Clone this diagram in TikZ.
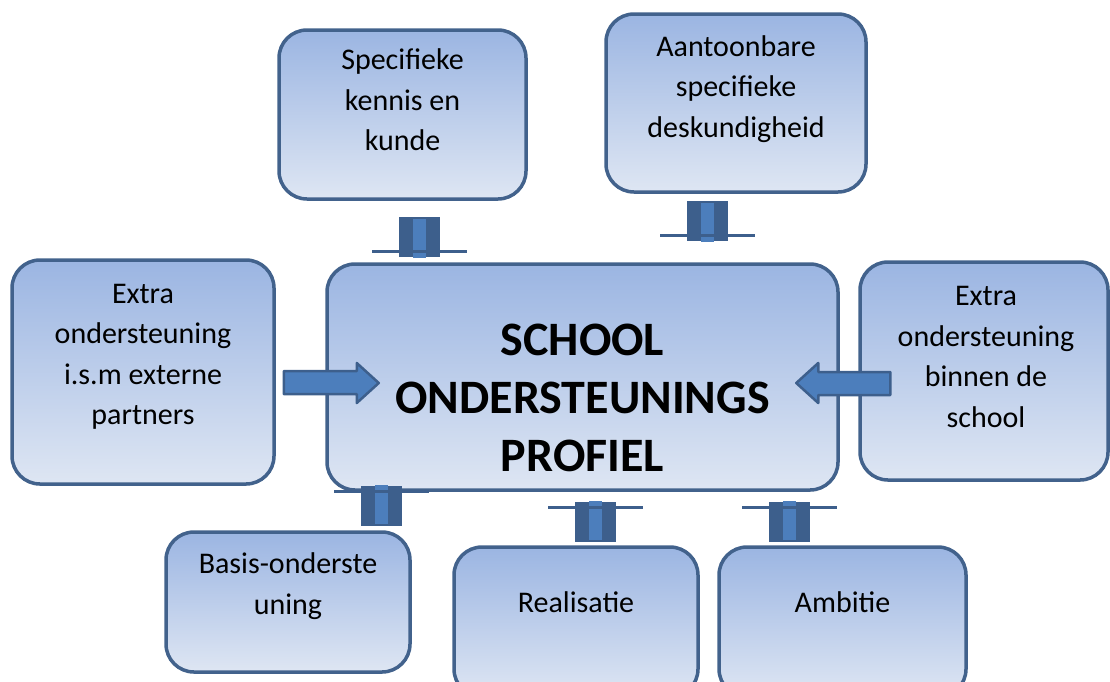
\documentclass[tikz,border=0pt]{standalone}
\usepackage{fontspec}
\setmainfont{Carlito}
\usetikzlibrary{calc}
\definecolor{boxline}{RGB}{66,98,140}
\definecolor{boxtop}{RGB}{155,181,226}
\definecolor{boxbot}{RGB}{222,230,243}
\definecolor{pilldark}{RGB}{61,95,140}
\definecolor{pilllight}{RGB}{76,126,188}
\tikzset{
  pillar/.pic = {
    \fill[pilldark] (-20.5,0) rectangle (20.5,40);
    \fill[pilllight] (-6.5,2) rectangle (6.5,41);
    \fill[pilldark] (-47.5,33) rectangle (47.5,36);
  }
}
\begin{document}
\begin{tikzpicture}[x = 1pt, y = -1pt,
  box/.style = {draw = boxline, line width = 3.5pt, rounded corners = 28pt, top color = boxtop, bottom color = boxbot, inner sep = 0pt},
  txt/.style = {align = center, font = \fontsize{30}{40.5}\selectfont, inner sep = 0pt},
  bigtxt/.style = {align = center, font = \fontsize{48}{58}\selectfont\bfseries, inner sep = 0pt},
  blockarrow/.style = {draw = pilldark, line width = 2.5pt, fill = pilllight, line join = round}]
  \clip (0,0) rectangle (1110,681);
  % boxes
  \node[box, minimum width = 247pt, minimum height = 169pt] (spec) at (402.5,114.5) {};
  \node[box, minimum width = 260pt, minimum height = 178pt] (aant) at (736,103) {};
  \node[box, minimum width = 262pt, minimum height = 224pt] (extl) at (143,372) {};
  \node[box, minimum width = 511pt, minimum height = 226pt] (main) at (582.5,377) {};
  \node[box, minimum width = 248pt, minimum height = 218pt] (extr) at (984,371) {};
  \node[box, minimum width = 244pt, minimum height = 140pt] (basis) at (288,602) {};
  \node[box, minimum width = 244pt, minimum height = 150pt] (real) at (576,622) {};
  \node[box, minimum width = 247pt, minimum height = 150pt] (amb) at (842.5,622) {};
  % texts
  \node[txt] (spect) at (402.5,100) {Specifieke\\kennis en\\kunde};
  \node[txt] (aantt) at (736,89) {Aantoonbare\\specifieke\\deskundigheid};
  \node[txt] (extlt) at (143,357) {Extra\\ondersteuning\\i.s.m externe\\partners};
  \node[bigtxt] (maint) at (582.5,398) {SCHOOL\\ONDERSTEUNINGS\\PROFIEL};
  \node[txt] (extrt) at (986,357) {Extra\\ondersteuning\\binnen de\\school};
  \node[txt] (basist) at (288,586) {Basis-onderste\\uning};
  \node[txt] (realt) at (576,602) {Realisatie};
  \node[txt] (ambt) at (842.5,602) {Ambitie};
  % connectors
  \path ($(spec.south)+(17,16)$) pic {pillar};
  \path ($(aant.south)+(-28.5,7)$) pic {pillar};
  \path ($(basis.north)+(93.5,-4)$) pic[yscale = -1] {pillar};
  \path ($(real.north)+(19.5,-3)$) pic[yscale = -1] {pillar};
  \path ($(amb.north)+(-53,-3)$) pic[yscale = -1] {pillar};
  \draw[blockarrow] ($(extl.east)+(8,-1)$) -- ++(73,0) -- ++(0,-8) -- ++(22,20) -- ++(-22,20) -- ++(0,-9) -- ++(-73,0) -- cycle;
  \draw[blockarrow] ($(extr.west)+(32,1)$) -- ++(-72,0) -- ++(0,-9) -- ++(-22,20) -- ++(22,20) -- ++(0,-8) -- ++(72,0) -- cycle;
\end{tikzpicture}
\end{document}
